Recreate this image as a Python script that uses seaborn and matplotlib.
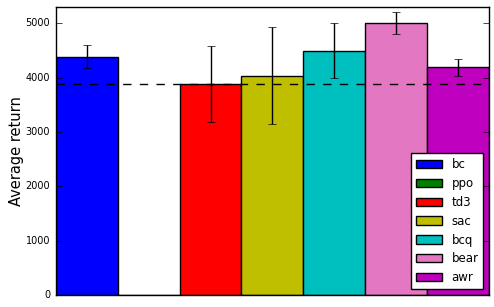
import seaborn as sns
import matplotlib.pyplot as plt
import pandas as pd

algos = ['bc', 'ppo', 'td3', 'sac', 'bcq', 'bear', 'awr']
means = [4390, 0, 3890, 4040, 4500, 5000, 4190]
errs = [205, 0, 700, 900, 500, 200, 155]
colors = ['b', 'g', 'r', 'y', 'c', '#e377c2', 'm']
baseline = 3890

plt.style.use('classic')
plt.rcParams['font.family'] = ['DejaVu Sans']

df = pd.DataFrame({'algo': algos, 'ret': means, 'err': errs})

fig = plt.figure(figsize=(4.94, 3.07), dpi=100, facecolor='white')
ax = fig.add_axes([0.113, 0.039, 0.877, 0.938])
sns.barplot(data=df, x='algo', y='ret', hue='algo', palette=colors,
            width=1.0, edgecolor='black', linewidth=1, saturation=1,
            legend=False, ax=ax)
for i, (m, e) in enumerate(zip(means, errs)):
    if e > 0:
        ax.errorbar(i, m, yerr=e, fmt='none', ecolor='black', capsize=3, elinewidth=1)
ax.axhline(baseline, color='black', linestyle='--', linewidth=1, zorder=5)

handles = [plt.Rectangle((0, 0), 1, 1, facecolor=c, edgecolor='black') for c in colors]
ax.legend(handles, algos, loc='lower right', fontsize=8.5, handlelength=2.2)

ax.set_xlim(-0.5, len(algos) - 0.5)
ax.set_ylim(0, 5300)
ax.set_xticks([])
ax.set_xlabel('')
ax.set_ylabel('Average return', fontsize=10.5, labelpad=1)
ax.tick_params(axis='y', labelsize=7)
ax.set_yticks([0, 1000, 2000, 3000, 4000, 5000])

fig.savefig('out.png', dpi=100, facecolor='white')
